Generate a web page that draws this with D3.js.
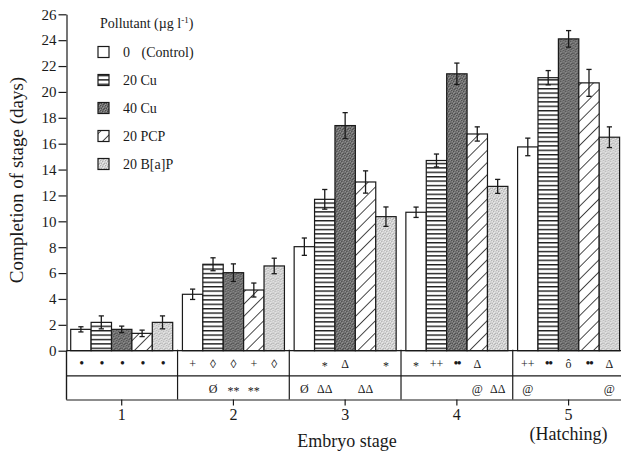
<!DOCTYPE html>
<html>
<head>
<meta charset="utf-8">
<script src="https://cdn.jsdelivr.net/npm/d3@7"></script>
<style>
  html, body { margin: 0; padding: 0; background: #fff; }
  svg { display: block; font-family: "Liberation Serif", "DejaVu Serif", serif; }
</style>
</head>
<body>
<script>
// Embryo stages on the x axis
const stages = ["1", "2", "3", "4", "5"];
// Treatments (pollutant, µg l-1)
const seriesKeys = ["control", "cu20", "cu40", "pcp20", "bap20"];
const seriesLabels = ["0", "20 Cu", "40 Cu", "20 PCP", "20 B[a]P"];

// Mean days to complete each stage
const control = [1.65, 4.36, 8.04, 10.7, 15.75];
const cu20    = [2.19, 6.68, 11.7, 14.7, 21.1];
const cu40    = [1.65, 6.03, 17.4, 21.4, 24.1];
const pcp20   = [1.34, 4.69, 13.04, 16.75, 20.7];
const bap20   = [2.19, 6.55, 10.36, 12.7, 16.5];

// Error bar half-widths
const controlErr = [0.2, 0.4, 0.67, 0.4, 0.68];
const cu20Err    = [0.5, 0.5, 0.76, 0.5, 0.55];
const cu40Err    = [0.25, 0.68, 1.0, 0.83, 0.64];
const pcp20Err   = [0.25, 0.54, 0.86, 0.55, 1.04];
const bap20Err   = [0.5, 0.6, 0.75, 0.54, 0.8];

// Significance symbols beneath each bar (two rows per stage)
const symbolsRow1 = [
  ["\u2022", "\u2022", "\u2022", "\u2022", "\u2022"],
  ["+", "\u25CA", "\u25CA", "+", "\u25CA"],
  ["", "*", "\u0394", "", "*"],
  ["*", "++", "\u2022\u2022", "\u0394", ""],
  ["++", "\u2022\u2022", "\u00F4", "\u2022\u2022", "\u0394"]
];
const symbolsRow2 = [
  ["", "", "", "", ""],
  ["", "\u00D8", "**", "**", ""],
  ["\u00D8", "\u0394\u0394", "", "\u0394\u0394", ""],
  ["", "", "", "@", "\u0394\u0394"],
  ["@", "", "", "", "@"]
];

const yTicks = [0, 2, 4, 6, 8, 10, 12, 14, 16, 18, 20, 22, 24, 26];

const values = { control, cu20, cu40, pcp20, bap20 };
const errors = { control: controlErr, cu20: cu20Err, cu40: cu40Err, pcp20: pcp20Err, bap20: bap20Err };

const W = 621, H = 453;
const svg = d3.select("body").append("svg").attr("width", W).attr("height", H);

// ---- fill patterns ----
const defs = svg.append("defs");

const hs = defs.append("pattern").attr("id", "hstripe")
  .attr("patternUnits", "userSpaceOnUse").attr("width", 6).attr("height", 4.4);
hs.append("rect").attr("width", 6).attr("height", 4.4).attr("fill", "#fff");
hs.append("rect").attr("y", 0).attr("width", 6).attr("height", 1.4).attr("fill", "#1c1c1c");

const dg = defs.append("pattern").attr("id", "diag")
  .attr("patternUnits", "userSpaceOnUse").attr("width", 8.6).attr("height", 8.6)
  .attr("patternTransform", "rotate(45)");
dg.append("rect").attr("width", 8.6).attr("height", 8.6).attr("fill", "#fff");
dg.append("line").attr("x1", 0).attr("y1", 0).attr("x2", 0).attr("y2", 8.6)
  .attr("stroke", "#1c1c1c").attr("stroke-width", 1.6);

function stipple(id, base, dark, light) {
  const p = defs.append("pattern").attr("id", id)
    .attr("patternUnits", "userSpaceOnUse").attr("width", 5).attr("height", 5);
  p.append("rect").attr("width", 5).attr("height", 5).attr("fill", base);
  [[0, 0], [2, 1], [4, 3], [1, 3], [3, 4]].forEach(([a, b]) =>
    p.append("rect").attr("x", a).attr("y", b).attr("width", 1).attr("height", 1).attr("fill", dark));
  [[1, 1], [3, 2], [0, 4], [4, 0], [2, 3]].forEach(([a, b]) =>
    p.append("rect").attr("x", a).attr("y", b).attr("width", 1).attr("height", 1).attr("fill", light));
}
stipple("darkdots", "#707070", "#4a4a4a", "#959595");
stipple("lightdots", "#d2d2d2", "#b0b0b0", "#ececec");

const fills = {
  control: "#fff",
  cu20: "url(#hstripe)",
  cu40: "url(#darkdots)",
  pcp20: "url(#diag)",
  bap20: "url(#lightdots)"
};

// ---- scales ----
const axisX = 66.5;
const baseY = 350.7;
const row1Y = 375.8;
const tableBottom = 399.5;

const x = d3.scaleBand().domain(stages).range([65.9, 624.4])
  .paddingInner(0.087).paddingOuter(0.043);
const xs = d3.scaleBand().domain(seriesKeys).range([0, x.bandwidth()]);
const y = d3.scaleLinear().domain([0, 26]).range([baseY, 14.3]);

const ink = "#1a1a1a";

// ---- bars ----
const groups = svg.append("g").selectAll("g").data(stages).join("g")
  .attr("transform", d => `translate(${x(d)},0)`);

groups.selectAll("rect").data((d, i) => seriesKeys.map(k => ({ k, v: values[k][i], e: errors[k][i] })))
  .join("rect")
  .attr("x", d => xs(d.k))
  .attr("y", d => y(d.v))
  .attr("width", xs.bandwidth())
  .attr("height", d => baseY - y(d.v))
  .attr("fill", d => fills[d.k])
  .attr("stroke", ink).attr("stroke-width", 1.2);

// ---- error bars ----
const eb = groups.selectAll("g.err").data((d, i) => seriesKeys.map(k => ({ k, v: values[k][i], e: errors[k][i] })))
  .join("g").attr("class", "err")
  .attr("transform", d => `translate(${xs(d.k) + xs.bandwidth() / 2},0)`)
  .attr("stroke", ink).attr("stroke-width", 1.3);
eb.append("line").attr("y1", d => y(d.v - d.e)).attr("y2", d => y(d.v + d.e));
eb.append("line").attr("x1", -2.6).attr("x2", 2.6).attr("y1", d => y(d.v + d.e)).attr("y2", d => y(d.v + d.e));
eb.append("line").attr("x1", -2.6).attr("x2", 2.6).attr("y1", d => y(d.v - d.e)).attr("y2", d => y(d.v - d.e));

// ---- significance table ----
const table = svg.append("g").attr("stroke", ink).attr("stroke-width", 1.2);
table.append("line").attr("x1", axisX).attr("x2", 621).attr("y1", baseY).attr("y2", baseY);
table.append("line").attr("x1", axisX).attr("x2", 621).attr("y1", row1Y).attr("y2", row1Y);
table.append("line").attr("x1", axisX).attr("x2", axisX).attr("y1", baseY).attr("y2", tableBottom);
stages.slice(0, -1).forEach(s => {
  const dx = x(s) + x.bandwidth() + x.step() * x.paddingInner() / 2;
  table.append("line").attr("x1", dx).attr("x2", dx).attr("y1", baseY - 1).attr("y2", tableBottom);
});

function drawRow(rows, cy, cls) {
  const g = svg.append("g").attr("class", cls);
  rows.forEach((row, i) => {
    row.forEach((sym, j) => {
      if (!sym) return;
      const cx = x(stages[i]) + xs(seriesKeys[j]) + xs.bandwidth() / 2;
      const isStar = sym.startsWith("*");
      const isDot = sym.startsWith("\u2022");
      g.append("text")
        .attr("x", cx)
        .attr("y", cy + (isStar ? 2.5 : 0))
        .attr("text-anchor", "middle")
        .attr("dominant-baseline", "central")
        .attr("font-size", isStar ? 12 : isDot ? 14 : 12)
        .attr("letter-spacing", isDot ? -1.5 : 0)
        .attr("fill", ink)
        .text(sym);
    });
  });
}
drawRow(symbolsRow1, 363.5, "row1");
drawRow(symbolsRow2, 388.5, "row2");

// ---- axes ----
const yAxis = svg.append("g").attr("transform", `translate(${axisX},0)`)
  .call(d3.axisLeft(y).tickValues(yTicks).tickSize(8).tickSizeOuter(0).tickPadding(2));
yAxis.select(".domain").attr("stroke", ink).attr("stroke-width", 1.2);
yAxis.selectAll(".tick line").attr("stroke", ink).attr("stroke-width", 1.2);
yAxis.selectAll(".tick text").attr("font-family", "Liberation Serif").attr("font-size", 15).attr("fill", ink);
svg.append("line").attr("x1", axisX).attr("x2", axisX).attr("y1", baseY).attr("y2", tableBottom)
  .attr("stroke", ink).attr("stroke-width", 1.2);

const xAxis = svg.append("g").attr("transform", `translate(0,${tableBottom})`)
  .call(d3.axisBottom(x).tickSize(6).tickSizeOuter(0).tickPadding(3));
xAxis.select(".domain").attr("stroke", ink).attr("stroke-width", 1.2);
xAxis.selectAll(".tick line").attr("stroke", ink).attr("stroke-width", 1.2);
xAxis.selectAll(".tick text").attr("font-family", "Liberation Serif").attr("font-size", 16).attr("fill", ink);

svg.append("text").attr("x", x("5") + x.bandwidth() / 2).attr("y", 440)
  .attr("text-anchor", "middle").attr("font-size", 18).attr("fill", ink).text("(Hatching)");

svg.append("text").attr("x", 347).attr("y", 447)
  .attr("text-anchor", "middle").attr("font-size", 18).attr("fill", ink).text("Embryo stage");

svg.append("text").attr("transform", "translate(23,180) rotate(-90)")
  .attr("text-anchor", "middle").attr("font-size", 19).attr("fill", ink)
  .text("Completion of stage (days)");

// ---- legend ----
const legend = svg.append("g");
const lt = legend.append("text").attr("x", 100).attr("y", 27.5).attr("font-size", 14).attr("fill", ink);
lt.append("tspan").text("Pollutant (\u00B5g l");
lt.append("tspan").attr("font-size", 9).attr("dy", -5).text("-1");
lt.append("tspan").attr("dy", 5).text(")");

seriesKeys.forEach((k, i) => {
  const cy = 52 + i * 28;
  legend.append("rect").attr("x", 98).attr("y", cy - 5.5).attr("width", 11).attr("height", 11)
    .attr("fill", fills[k]).attr("stroke", ink).attr("stroke-width", 1.2);
  const t = legend.append("text").attr("x", 123).attr("y", cy + 5).attr("font-size", 14).attr("fill", ink);
  t.append("tspan").text(seriesLabels[i]);
  if (k === "control") t.append("tspan").attr("x", 141.5).text("(Control)");
});
</script>
</body>
</html>
